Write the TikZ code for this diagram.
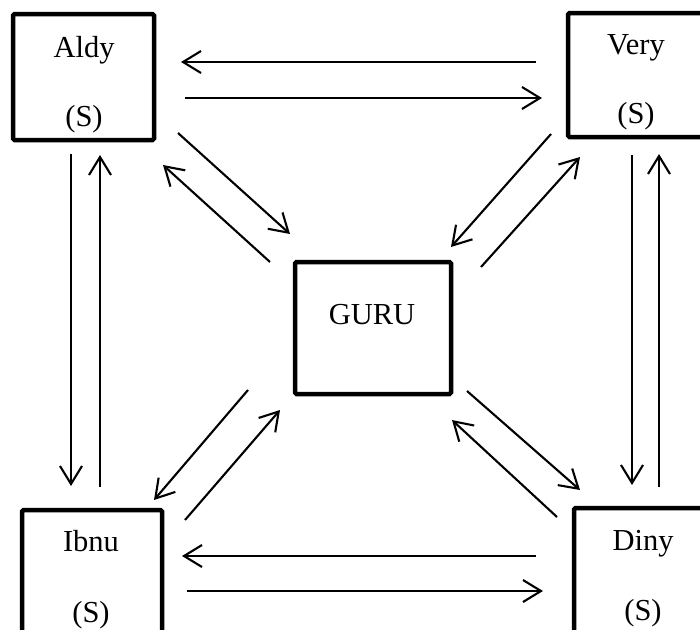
\documentclass[tikz,border=0pt]{standalone}
\usepackage{fontspec}
\setmainfont{Liberation Serif}
\usetikzlibrary{arrows.meta}
\begin{document}
\begin{tikzpicture}[x=1pt,y=-1pt,
  box/.style={draw, line width=4.5pt, rounded corners=1.5pt, inner sep=0pt},
  lbl/.style={inner sep=0pt, anchor=base, font=\fontsize{30.5}{36}\selectfont},
  arr/.style={line width=2.1pt, -{Straight Barb[length=18pt,width=22pt]}}]
\useasboundingbox (0,0) rectangle (700,629);
\clip (0,0) rectangle (700,629);
% boxes
\node[box, minimum width=141pt, minimum height=126pt] (aldy) at (83.5,77) {};
\node[box, minimum width=138pt, minimum height=124pt] (very) at (637,75) {};
\node[box, minimum width=156pt, minimum height=132pt] (guru) at (373,328) {};
\node[box, minimum width=140pt, minimum height=126pt] (ibnu) at (92,573) {};
\node[box, minimum width=140pt, minimum height=126pt] (diny) at (644,571) {};
% labels
\node[lbl] (aldyt) at (84,57) {Aldy};
\node[lbl] (aldys) at (84,126) {(S)};
\node[lbl] (veryt) at (636,54) {Very};
\node[lbl] (verys) at (636,123) {(S)};
\node[lbl] (gurut) at (372,324) {GURU};
\node[lbl] (ibnut) at (91,551) {Ibnu};
\node[lbl] (ibnus) at (91,622) {(S)};
\node[lbl] (dinyt) at (643,550) {Diny};
\node[lbl] (dinys) at (643,620) {(S)};
% arrow end points
\coordinate (va1) at (536,62);  \coordinate (va2) at (181,62);
\coordinate (av1) at (185,98);  \coordinate (av2) at (542,98);
\coordinate (di1) at (536,556); \coordinate (di2) at (182,556);
\coordinate (id1) at (187,591); \coordinate (id2) at (543,591);
\coordinate (ai1) at (71,154);  \coordinate (ai2) at (71,486);
\coordinate (ia1) at (100,487); \coordinate (ia2) at (100,155);
\coordinate (vd1) at (632,155); \coordinate (vd2) at (632,485);
\coordinate (dv1) at (659,487); \coordinate (dv2) at (659,154);
\coordinate (ag1) at (178,133); \coordinate (ag2) at (290,234);
\coordinate (ga1) at (270,262); \coordinate (ga2) at (163,165);
\coordinate (vg1) at (551,134); \coordinate (vg2) at (451,247);
\coordinate (gv1) at (481,267); \coordinate (gv2) at (580,157);
\coordinate (gi1) at (248,390); \coordinate (gi2) at (154,500);
\coordinate (ig1) at (185,520); \coordinate (ig2) at (280,410);
\coordinate (gd1) at (467,391); \coordinate (gd2) at (580,490);
\coordinate (dg1) at (557,517); \coordinate (dg2) at (452,420);
% arrows
\draw[arr] (va1) -- (va2);
\draw[arr] (av1) -- (av2);
\draw[arr] (di1) -- (di2);
\draw[arr] (id1) -- (id2);
\draw[arr] (ai1) -- (ai2);
\draw[arr] (ia1) -- (ia2);
\draw[arr] (vd1) -- (vd2);
\draw[arr] (dv1) -- (dv2);
\draw[arr] (ag1) -- (ag2);
\draw[arr] (ga1) -- (ga2);
\draw[arr] (vg1) -- (vg2);
\draw[arr] (gv1) -- (gv2);
\draw[arr] (gi1) -- (gi2);
\draw[arr] (ig1) -- (ig2);
\draw[arr] (gd1) -- (gd2);
\draw[arr] (dg1) -- (dg2);
\end{tikzpicture}
\end{document}
